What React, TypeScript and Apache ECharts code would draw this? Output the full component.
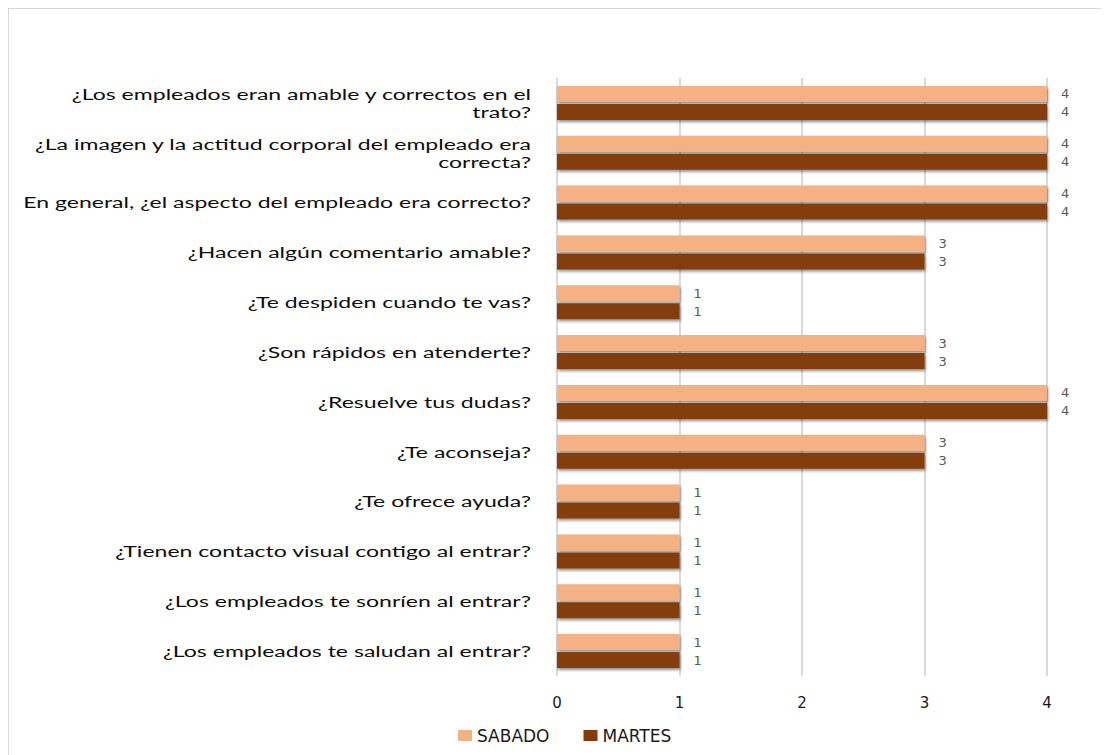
import React, { useEffect, useRef } from "react";
import * as echarts from "echarts";

const categories = [
  "¿Los empleados eran amable y correctos en el\ntrato?",
  "¿La imagen y la actitud corporal del empleado era\ncorrecta?",
  "En general, ¿el aspecto del empleado era correcto?",
  "¿Hacen algún comentario amable?",
  "¿Te despiden cuando te vas?",
  "¿Son rápidos en atenderte?",
  "¿Resuelve tus dudas?",
  "¿Te aconseja?",
  "¿Te ofrece ayuda?",
  "¿Tienen contacto visual contigo al entrar?",
  "¿Los empleados te sonríen al entrar?",
  "¿Los empleados te saludan al entrar?",
];

const sabado = [4, 4, 4, 3, 1, 3, 4, 3, 1, 1, 1, 1];
const martes = [4, 4, 4, 3, 1, 3, 4, 3, 1, 1, 1, 1];

const xTicks = { min: 0, max: 4, interval: 1 };

const FONT = "DejaVu Sans";
const LABEL_FONT = "Lato";
const LABEL_SIZE = 15;

export default function App() {
  const ref = useRef<HTMLDivElement>(null);
  useEffect(() => {
    if (!ref.current) return;
    const chart = echarts.init(ref.current, undefined, { renderer: "svg" });
    const barStyle = (color: string) => ({
      color,
      shadowColor: "rgba(0,0,0,0.45)",
      shadowBlur: 3,
      shadowOffsetX: 1,
      shadowOffsetY: 2,
    });
    const label = {
      show: true,
      position: "right" as const,
      distance: 14,
      color: "#595959",
      fontFamily: FONT,
      fontSize: 13,
    };
    const gridLeft = 548;
    chart.setOption({
      animation: false,
      backgroundColor: "#ffffff",
      grid: { left: gridLeft, top: 69, width: 490, height: 598, containLabel: false },
      legend: {
        left: 444,
        top: 713,
        itemWidth: 14,
        itemHeight: 11,
        itemGap: 34,
        icon: "rect",
        textStyle: { fontFamily: FONT, fontSize: 17, color: "#1a1a1a" },
        data: ["SABADO", "MARTES"],
      },
      xAxis: {
        type: "value",
        min: xTicks.min,
        max: xTicks.max,
        interval: xTicks.interval,
        axisLine: { show: false },
        axisTick: { show: false },
        splitLine: { show: true, lineStyle: { color: "#d9d9d9", width: 2 } },
        axisLabel: { fontFamily: FONT, fontSize: 15, color: "#1a1a1a", margin: 19 },
      },
      yAxis: {
        type: "category",
        inverse: true,
        data: categories,
        axisLine: { show: false },
        axisTick: { show: false },
        axisLabel: { show: false },
      },
      series: [
        {
          name: "SABADO",
          type: "bar",
          data: sabado,
          barWidth: 16,
          barGap: "12%",
          itemStyle: barStyle("#F4B183"),
          label,
        },
        {
          name: "MARTES",
          type: "bar",
          data: martes,
          barWidth: 16,
          barGap: "12%",
          itemStyle: barStyle("#843C0C"),
          label,
        },
      ],
    });

    // Category labels: placed by the category axis scale,
    // stretched horizontally to match the reference's wide typeface.
    const canvas = document.createElement("canvas");
    const ctx = canvas.getContext("2d");
    let scaleX = 1.45;
    if (ctx) {
      ctx.font = `${LABEL_SIZE}px ${LABEL_FONT}`;
      const w = ctx.measureText(categories[2]).width;
      if (w > 0) scaleX = 508 / w;
    }
    const elements = categories.map((c, i) => {
      const y = chart.convertToPixel({ yAxisIndex: 0 }, i) as number;
      return {
        type: "text",
        x: gridLeft - 26,
        y,
        scaleX,
        scaleY: 1,
        silent: true,
        style: {
          text: c,
          fontFamily: LABEL_FONT,
          fontSize: LABEL_SIZE,
          lineHeight: 18,
          fill: "#0d0d0d",
          align: "right",
          verticalAlign: "middle",
        },
      };
    });
    chart.setOption({ graphic: { elements } });
    return () => chart.dispose();
  }, []);
  return (
    <div style={{ width: 1110, height: 755, borderLeft: "1px solid #d9d9d9", borderTop: "1px solid #d9d9d9" }}>
      <div ref={ref} style={{ width: 1110, height: 755 }} />
    </div>
  );
}
